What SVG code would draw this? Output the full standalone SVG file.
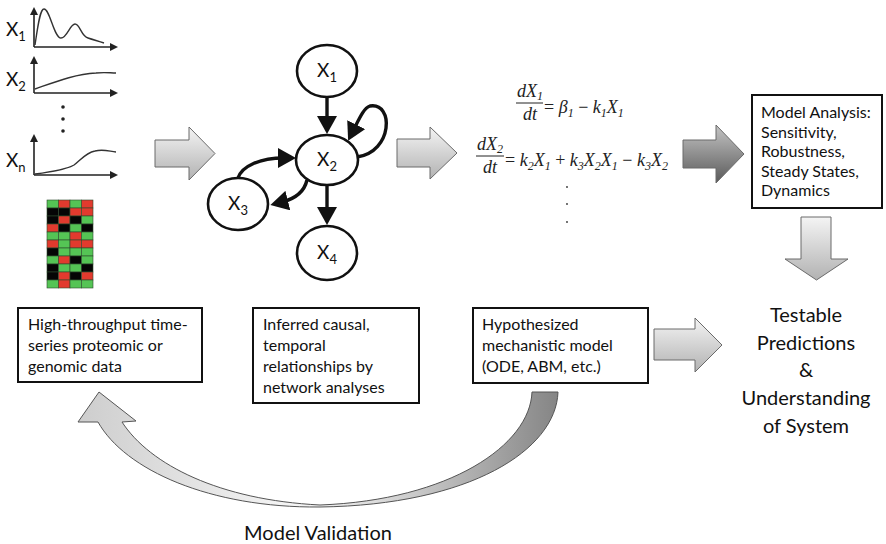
<svg xmlns="http://www.w3.org/2000/svg" width="886" height="544" viewBox="0 0 886 544">
<style>
.t{font-family:Lato,"Open Sans",sans-serif;fill:#111}
.box{fill:#fff;stroke:#111;stroke-width:2}
.bt{font-family:Lato,"Open Sans",sans-serif;font-size:16px;fill:#111}
.ell{fill:#fff;stroke:#111;stroke-width:2.6}
.edge{fill:none;stroke:#111;stroke-width:3.4}
.ax{fill:none;stroke:#222;stroke-width:1.6}
.cv{fill:none;stroke:#333;stroke-width:1.4}
.eq{font-family:"Liberation Serif",serif;font-style:italic;font-size:18px;fill:#222}
.blk{stroke:#6a6a6a;stroke-width:1}
.hm rect{stroke:#2c4a2c;stroke-width:0.6}
.g{fill:#55c455}.r{fill:#e23a2e}.k{fill:#050505}
</style>
<defs>
<linearGradient id="gl" x1="0" y1="0" x2="0" y2="1">
<stop offset="0" stop-color="#f4f4f4"/><stop offset="1" stop-color="#b2b2b2"/>
</linearGradient>
<linearGradient id="gd" x1="0" y1="0" x2="0" y2="1">
<stop offset="0" stop-color="#c4c4c4"/><stop offset="1" stop-color="#5a5a5a"/>
</linearGradient>
<linearGradient id="gv" x1="0" y1="0" x2="1" y2="0">
<stop offset="0" stop-color="#cdcdcd"/><stop offset="0.45" stop-color="#f6f6f6"/><stop offset="0.62" stop-color="#dcdcdc"/><stop offset="1" stop-color="#858585"/>
</linearGradient>
<marker id="ah" markerUnits="userSpaceOnUse" viewBox="0 0 18 20" markerWidth="18" markerHeight="20" refX="6" refY="10" orient="auto">
<path d="M0,0 L18,10 L0,20 z" fill="#111"/>
</marker>
<marker id="axh" markerUnits="userSpaceOnUse" viewBox="0 0 8 8" markerWidth="8" markerHeight="8" refX="2" refY="4" orient="auto">
<path d="M0,0 L8,4 L0,8 z" fill="#222"/>
</marker>
</defs>
<rect width="886" height="544" fill="#fff"/>

<!-- time-series data -->
<g id="data">
<text class="t" x="6" y="36" font-size="19">X<tspan dy="5" font-size="13">1</tspan></text>
<path class="ax" d="M34,47 V13" marker-end="url(#axh)"/>
<path class="ax" d="M34,47 H112" marker-end="url(#axh)"/>
<path class="cv" d="M35,45 C38,25 40,9 44,9 C50,9 54,38 61,38 C67,38 70,24 75,24 C80,24 81,36 88,38 C94,40 98,41 104,43"/>
<text class="t" x="6" y="86" font-size="19">X<tspan dy="5" font-size="13">2</tspan></text>
<path class="ax" d="M34,93 V62" marker-end="url(#axh)"/>
<path class="ax" d="M34,93 H112" marker-end="url(#axh)"/>
<path class="cv" d="M35,89 C55,82 75,74 96,73 C105,72 110,73 116,73"/>
<circle cx="63" cy="107" r="1.8" fill="#222"/>
<circle cx="63" cy="119" r="1.8" fill="#222"/>
<circle cx="63" cy="131" r="1.8" fill="#222"/>
<text class="t" x="6" y="167" font-size="19">X<tspan dy="5" font-size="13">n</tspan></text>
<path class="ax" d="M34,175 V140" marker-end="url(#axh)"/>
<path class="ax" d="M34,175 H112" marker-end="url(#axh)"/>
<path class="cv" d="M35,174 C50,172 65,170 74,165 C80,161 85,153 95,151 C103,149 108,151 116,152"/>
<g class="hm">
<rect class="g" x="47" y="200" width="11.5" height="8"/><rect class="r" x="58.5" y="200" width="11.5" height="8"/><rect class="g" x="70" y="200" width="11.5" height="8"/><rect class="r" x="81.5" y="200" width="11.5" height="8"/>
<rect class="k" x="47" y="208" width="11.5" height="8"/><rect class="k" x="58.5" y="208" width="11.5" height="8"/><rect class="r" x="70" y="208" width="11.5" height="8"/><rect class="r" x="81.5" y="208" width="11.5" height="8"/>
<rect class="k" x="47" y="216" width="11.5" height="8"/><rect class="r" x="58.5" y="216" width="11.5" height="8"/><rect class="k" x="70" y="216" width="11.5" height="8"/><rect class="g" x="81.5" y="216" width="11.5" height="8"/>
<rect class="r" x="47" y="224" width="11.5" height="8"/><rect class="k" x="58.5" y="224" width="11.5" height="8"/><rect class="g" x="70" y="224" width="11.5" height="8"/><rect class="k" x="81.5" y="224" width="11.5" height="8"/>
<rect class="g" x="47" y="232" width="11.5" height="8"/><rect class="g" x="58.5" y="232" width="11.5" height="8"/><rect class="r" x="70" y="232" width="11.5" height="8"/><rect class="g" x="81.5" y="232" width="11.5" height="8"/>
<rect class="r" x="47" y="240" width="11.5" height="8"/><rect class="g" x="58.5" y="240" width="11.5" height="8"/><rect class="r" x="70" y="240" width="11.5" height="8"/><rect class="r" x="81.5" y="240" width="11.5" height="8"/>
<rect class="k" x="47" y="248" width="11.5" height="8"/><rect class="g" x="58.5" y="248" width="11.5" height="8"/><rect class="g" x="70" y="248" width="11.5" height="8"/><rect class="g" x="81.5" y="248" width="11.5" height="8"/>
<rect class="g" x="47" y="256" width="11.5" height="8"/><rect class="r" x="58.5" y="256" width="11.5" height="8"/><rect class="k" x="70" y="256" width="11.5" height="8"/><rect class="g" x="81.5" y="256" width="11.5" height="8"/>
<rect class="k" x="47" y="264" width="11.5" height="8"/><rect class="g" x="58.5" y="264" width="11.5" height="8"/><rect class="g" x="70" y="264" width="11.5" height="8"/><rect class="k" x="81.5" y="264" width="11.5" height="8"/>
<rect class="k" x="47" y="272" width="11.5" height="8"/><rect class="r" x="58.5" y="272" width="11.5" height="8"/><rect class="k" x="70" y="272" width="11.5" height="8"/><rect class="r" x="81.5" y="272" width="11.5" height="8"/>
<rect class="g" x="47" y="280" width="11.5" height="8"/><rect class="r" x="58.5" y="280" width="11.5" height="8"/><rect class="g" x="70" y="280" width="11.5" height="8"/><rect class="g" x="81.5" y="280" width="11.5" height="8"/>
</g>
</g>

<!-- network -->
<g id="net-edges">
<path class="edge" d="M327,97 V122" marker-end="url(#ah)"/>
<path class="edge" d="M327,185 V213" marker-end="url(#ah)"/>
<path class="edge" d="M357,157 C393,152 394,102 370,106 C364,108 360,117 353.5,130" marker-end="url(#ah)"/>
<path class="edge" d="M238,178 C242,166 260,158 284,158" marker-end="url(#ah)"/>
<path class="edge" d="M307,180 C304,193 294,199 282,202" marker-end="url(#ah)"/>
</g>
<g id="X1"><ellipse class="ell" cx="327" cy="71" rx="30" ry="26"/><text class="t" x="327" y="77" font-size="19" text-anchor="middle">X<tspan dy="5" font-size="13">1</tspan></text></g>
<g id="X2"><ellipse class="ell" cx="327" cy="160" rx="31" ry="25"/><text class="t" x="327" y="166" font-size="19" text-anchor="middle">X<tspan dy="5" font-size="13">2</tspan></text></g>
<g id="X3"><ellipse class="ell" cx="238" cy="204" rx="30" ry="26"/><text class="t" x="238" y="210" font-size="19" text-anchor="middle">X<tspan dy="5" font-size="13">3</tspan></text></g>
<g id="X4"><ellipse class="ell" cx="327" cy="253" rx="30" ry="27"/><text class="t" x="327" y="259" font-size="19" text-anchor="middle">X<tspan dy="5" font-size="13">4</tspan></text></g>

<!-- equations -->
<g id="equations">
<text class="eq" x="530" y="97" text-anchor="middle">dX<tspan dy="3" font-size="12">1</tspan></text>
<line x1="516" y1="103" x2="543" y2="103" stroke="#222" stroke-width="1"/>
<text class="eq" x="530" y="120" text-anchor="middle">dt</text>
<text class="eq" x="544" y="113"><tspan font-style="normal">=</tspan> β<tspan dy="4" font-size="12">1</tspan><tspan dy="-4" font-style="normal"> − </tspan>k<tspan dy="4" font-size="12">1</tspan><tspan dy="-4">X</tspan><tspan dy="4" font-size="12">1</tspan></text>
<text class="eq" x="490" y="150" text-anchor="middle">dX<tspan dy="3" font-size="12">2</tspan></text>
<line x1="476" y1="156" x2="504" y2="156" stroke="#222" stroke-width="1"/>
<text class="eq" x="490" y="173" text-anchor="middle">dt</text>
<text class="eq" x="505" y="166"><tspan font-style="normal">=</tspan> k<tspan dy="4" font-size="12">2</tspan><tspan dy="-4">X</tspan><tspan dy="4" font-size="12">1</tspan><tspan dy="-4" font-style="normal"> + </tspan>k<tspan dy="4" font-size="12">3</tspan><tspan dy="-4">X</tspan><tspan dy="4" font-size="12">2</tspan><tspan dy="-4">X</tspan><tspan dy="4" font-size="12">1</tspan><tspan dy="-4" font-style="normal"> − </tspan>k<tspan dy="4" font-size="12">3</tspan><tspan dy="-4">X</tspan><tspan dy="4" font-size="12">2</tspan></text>
<circle cx="567" cy="187" r="0.9" fill="#333"/>
<circle cx="567" cy="204" r="0.9" fill="#333"/>
<circle cx="567" cy="222" r="0.9" fill="#333"/>
</g>

<!-- block arrows -->
<g id="arrows">
<path class="blk" fill="url(#gl)" d="M155,140 H189 V127 L215,153.5 L189,180 V167 H155 Z"/>
<path class="blk" fill="url(#gl)" d="M397,139 H430 V127 L457,153 L430,179 V167 H397 Z"/>
<path class="blk" fill="url(#gd)" stroke="#444" d="M683,140 H716 V125 L744,154 L716,183 V168 H683 Z"/>
<path class="blk" fill="url(#gl)" d="M801,217 H831 V259 H848 L816.5,280 L785,259 H801 Z"/>
<path class="blk" fill="url(#gl)" d="M654,329 H695 V318 L722,345 L695,372 V360 H654 Z"/>
<path fill="url(#gv)" stroke="#555" stroke-width="1" d="M532,392 L558,392 C556,450 470,505 320,507 C210,508 125,470 98,422 L78,422 L99,392 L136,421 L122,422 C150,465 220,500 320,505 C450,500 530,445 532,392 Z"/>
</g>

<!-- boxes -->
<g id="box-data">
<rect class="box" x="18" y="308" width="184" height="74"/>
<text class="bt" x="28" y="330">High-throughput time-</text>
<text class="bt" x="28" y="351">series proteomic or</text>
<text class="bt" x="28" y="372">genomic data</text>
</g>
<g id="box-network">
<rect class="box" x="253" y="308" width="166" height="95"/>
<text class="bt" x="263" y="330">Inferred causal,</text>
<text class="bt" x="263" y="351">temporal</text>
<text class="bt" x="263" y="372">relationships by</text>
<text class="bt" x="263" y="393">network analyses</text>
</g>
<g id="box-model">
<rect class="box" x="473" y="308" width="175" height="75"/>
<text class="bt" x="482" y="330">Hypothesized</text>
<text class="bt" x="482" y="351">mechanistic model</text>
<text class="bt" x="482" y="372">(ODE, ABM, etc.)</text>
</g>
<g id="box-analysis">
<rect class="box" x="752" y="95" width="130" height="113"/>
<text class="bt" x="761" y="118">Model Analysis:</text>
<text class="bt" x="761" y="138">Sensitivity,</text>
<text class="bt" x="761" y="157">Robustness,</text>
<text class="bt" x="761" y="177">Steady States,</text>
<text class="bt" x="761" y="196">Dynamics</text>
</g>
<g id="predictions">
<text class="t" font-size="20" text-anchor="middle" x="806" y="322">Testable</text>
<text class="t" font-size="20" text-anchor="middle" x="806" y="350">Predictions</text>
<text class="t" font-size="20" text-anchor="middle" x="806" y="377">&amp;</text>
<text class="t" font-size="20" text-anchor="middle" x="806" y="405">Understanding</text>
<text class="t" font-size="20" text-anchor="middle" x="806" y="433">of System</text>
</g>
<g id="validation-label">
<text class="t" font-size="20" text-anchor="middle" x="318" y="540">Model Validation</text>
</g>
</svg>
